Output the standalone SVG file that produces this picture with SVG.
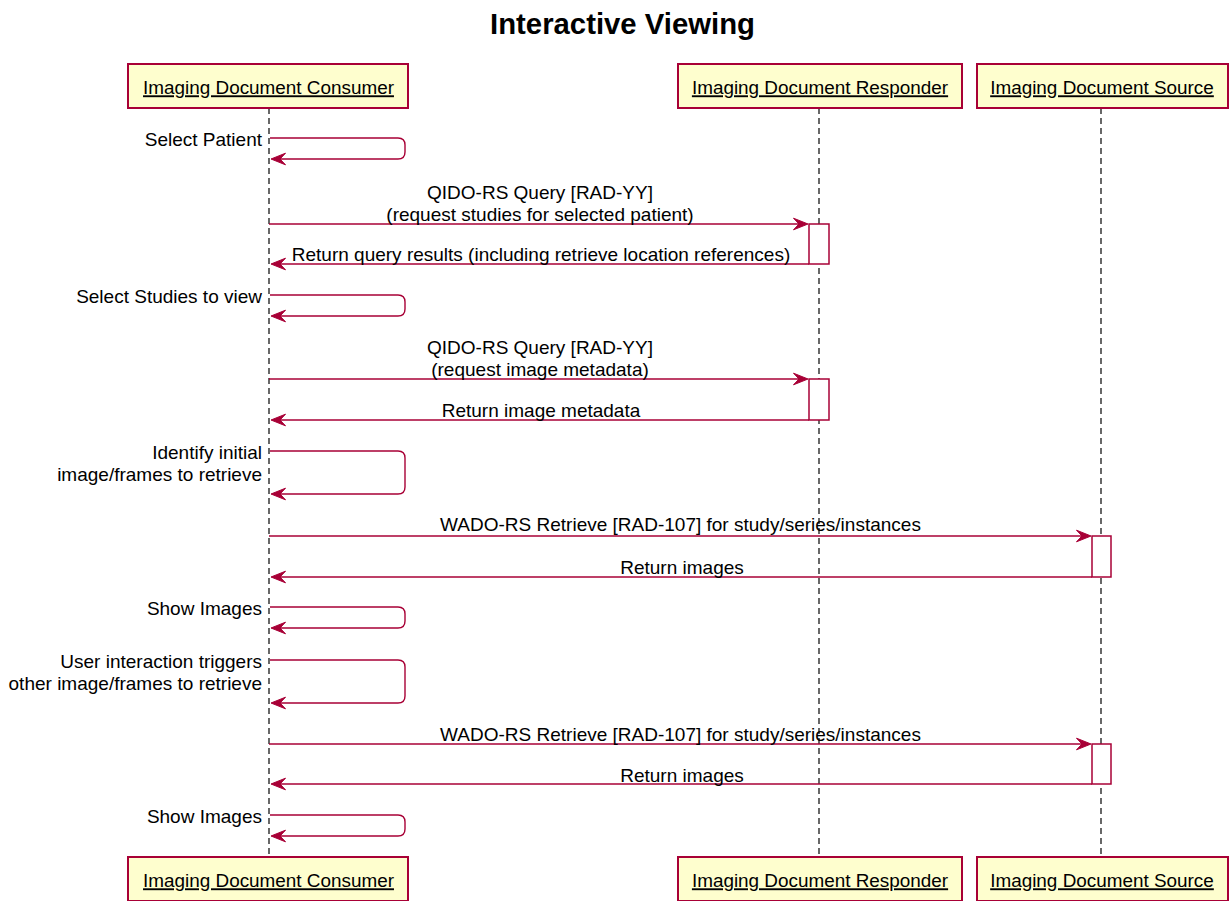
<svg xmlns="http://www.w3.org/2000/svg" width="1229" height="901" viewBox="0 0 1229 901">
<style>
text{font-family:"Liberation Sans",Arial,sans-serif;fill:#000}
.title{font-size:29.3px;font-weight:bold}
.lbl{font-size:19px}
.pname{font-size:18.9px;text-decoration:underline}
.pbox{fill:#FEFECE;stroke:#A80036;stroke-width:2}
.life{stroke:#181818;stroke-width:1.3;stroke-dasharray:6,4;fill:none}
.act{fill:#FFFFFF;stroke:#A80036;stroke-width:1.5}
.msg{stroke:#A80036;stroke-width:1.4;fill:none}
.head{fill:#A80036;stroke:#A80036;stroke-width:1}
</style>
<rect width="1229" height="901" fill="#FFFFFF"/>
<text class="title" x="622.5" y="34.3" text-anchor="middle">Interactive Viewing</text>

<g id="lifelines">
<line class="life" x1="269" y1="108" x2="269" y2="857"/>
<line class="life" x1="819" y1="108" x2="819" y2="857"/>
<line class="life" x1="1101" y1="108" x2="1101" y2="857"/>
</g>

<g id="consumer">
<rect class="pbox" x="128" y="64" width="280" height="44"/>
<text class="pname" x="268.5" y="94.3" text-anchor="middle">Imaging Document Consumer</text>
<rect class="pbox" x="128" y="857" width="280" height="44"/>
<text class="pname" x="268.5" y="887.3" text-anchor="middle">Imaging Document Consumer</text>
</g>
<g id="responder">
<rect class="pbox" x="678" y="64" width="284" height="44"/>
<text class="pname" x="820" y="94.3" text-anchor="middle">Imaging Document Responder</text>
<rect class="pbox" x="678" y="857" width="284" height="44"/>
<text class="pname" x="820" y="887.3" text-anchor="middle">Imaging Document Responder</text>
<rect class="act" x="809" y="224" width="20" height="40"/>
<rect class="act" x="809" y="379" width="20" height="41"/>
</g>
<g id="source">
<rect class="pbox" x="977" y="64" width="251" height="44"/>
<text class="pname" x="1102" y="94.3" text-anchor="middle">Imaging Document Source</text>
<rect class="pbox" x="977" y="857" width="251" height="44"/>
<text class="pname" x="1102" y="887.3" text-anchor="middle">Imaging Document Source</text>
<rect class="act" x="1092" y="536" width="19" height="41"/>
<rect class="act" x="1092" y="744" width="19" height="40"/>
</g>

<g id="connectors">
<path class="msg" d="M270,138 H398 Q405,138 405,145 V152 Q405,159 398,159 H278"/>
<polygon class="head" points="271,159 285.5,153.2 280,159 285.5,164.8"/>
<text class="lbl" x="262" y="145.5" text-anchor="end">Select Patient</text>

<line class="msg" x1="269" y1="224" x2="802" y2="224"/>
<polygon class="head" points="808,224 793.5,218.2 799,224 793.5,229.8"/>
<text class="lbl" x="540" y="199" text-anchor="middle">QIDO-RS Query [RAD-YY]</text>
<text class="lbl" x="540" y="221" text-anchor="middle">(request studies for selected patient)</text>
<line class="msg" x1="809" y1="264" x2="277" y2="264"/>
<polygon class="head" points="271,264 285.5,258.2 280,264 285.5,269.8"/>
<text class="lbl" x="541" y="260.5" text-anchor="middle">Return query results (including retrieve location references)</text>

<path class="msg" d="M270,295 H398 Q405,295 405,302 V309 Q405,316 398,316 H278"/>
<polygon class="head" points="271,316 285.5,310.2 280,316 285.5,321.8"/>
<text class="lbl" x="262" y="302.5" text-anchor="end">Select Studies to view</text>

<line class="msg" x1="269" y1="379" x2="802" y2="379"/>
<polygon class="head" points="808,379 793.5,373.2 799,379 793.5,384.8"/>
<text class="lbl" x="540" y="354" text-anchor="middle">QIDO-RS Query [RAD-YY]</text>
<text class="lbl" x="540" y="376" text-anchor="middle">(request image metadata)</text>
<line class="msg" x1="809" y1="420" x2="277" y2="420"/>
<polygon class="head" points="271,420 285.5,414.2 280,420 285.5,425.8"/>
<text class="lbl" x="541" y="416.5" text-anchor="middle">Return image metadata</text>

<path class="msg" d="M270,451 H398 Q405,451 405,458 V487 Q405,494 398,494 H278"/>
<polygon class="head" points="271,494 285.5,488.2 280,494 285.5,499.8"/>
<text class="lbl" x="262" y="458.5" text-anchor="end">Identify initial</text>
<text class="lbl" x="262" y="480.5" text-anchor="end">image/frames to retrieve</text>

<line class="msg" x1="269" y1="536" x2="1085" y2="536"/>
<polygon class="head" points="1091,536 1076.5,530.2 1082,536 1076.5,541.8"/>
<text class="lbl" x="680.5" y="531" text-anchor="middle">WADO-RS Retrieve [RAD-107] for study/series/instances</text>
<line class="msg" x1="1092" y1="577" x2="277" y2="577"/>
<polygon class="head" points="271,577 285.5,571.2 280,577 285.5,582.8"/>
<text class="lbl" x="682" y="573.5" text-anchor="middle">Return images</text>

<path class="msg" d="M270,607 H398 Q405,607 405,614 V621 Q405,628 398,628 H278"/>
<polygon class="head" points="271,628 285.5,622.2 280,628 285.5,633.8"/>
<text class="lbl" x="262" y="614.5" text-anchor="end">Show Images</text>

<path class="msg" d="M270,660 H398 Q405,660 405,667 V696 Q405,703 398,703 H278"/>
<polygon class="head" points="271,703 285.5,697.2 280,703 285.5,708.8"/>
<text class="lbl" x="262" y="667.5" text-anchor="end">User interaction triggers</text>
<text class="lbl" x="262" y="689.5" text-anchor="end">other image/frames to retrieve</text>

<line class="msg" x1="269" y1="744" x2="1085" y2="744"/>
<polygon class="head" points="1091,744 1076.5,738.2 1082,744 1076.5,749.8"/>
<text class="lbl" x="680.5" y="740.5" text-anchor="middle">WADO-RS Retrieve [RAD-107] for study/series/instances</text>
<line class="msg" x1="1092" y1="784" x2="277" y2="784"/>
<polygon class="head" points="271,784 285.5,778.2 280,784 285.5,789.8"/>
<text class="lbl" x="682" y="781.5" text-anchor="middle">Return images</text>

<path class="msg" d="M270,815 H398 Q405,815 405,822 V829 Q405,836 398,836 H278"/>
<polygon class="head" points="271,836 285.5,830.2 280,836 285.5,841.8"/>
<text class="lbl" x="262" y="822.5" text-anchor="end">Show Images</text>
</g>
</svg>
